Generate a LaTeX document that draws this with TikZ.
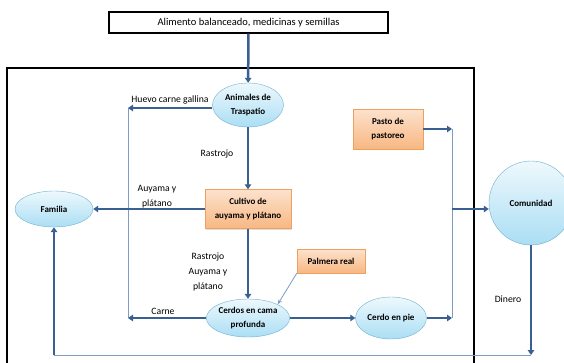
\documentclass[tikz,border=0pt]{standalone}
\usepackage{fontspec}
\setmainfont{Carlito}
\usepackage{tikz}
\usetikzlibrary{shapes.geometric, arrows.meta, positioning, shadows}
\definecolor{flowcolor}{RGB}{58,96,146}
\definecolor{linkcolor}{RGB}{125,155,195}
\definecolor{ovalcolor}{RGB}{170,222,244}
\definecolor{ovalline}{RGB}{110,175,205}
\definecolor{boxcolor}{RGB}{248,183,130}
\definecolor{boxline}{RGB}{238,160,95}

\begin{document}
\begin{tikzpicture}[
    x=1pt, y=-1pt,
    font=\fontsize{9.7}{15}\selectfont,
    oval/.style={ellipse, draw=ovalline, top color=ovalcolor!20, bottom color=ovalcolor, inner sep=0pt, font=\fontsize{9}{14}\selectfont\bfseries, align=center},
    item/.style={rectangle, draw=boxline, top color=boxcolor!40, bottom color=boxcolor, inner sep=0pt, font=\fontsize{9}{14}\selectfont\bfseries, align=center, drop shadow={shadow xshift=1pt, shadow yshift=-1pt, opacity=0.25}},
    supply/.style={rectangle, draw, line width=1.2pt, minimum width=279pt, minimum height=21pt, inner sep=0pt, font=\fontsize{10.5}{13}\selectfont},
    lab/.style={align=center, inner sep=0pt},
    flow/.style={-{Triangle[length=5pt,width=6.5pt]}, line width=2.5pt, draw=flowcolor},
    link/.style={line width=0.8pt, draw=linkcolor}
]
    \useasboundingbox (0,0) rectangle (564,362);
    \draw[line width=1.2pt] (7,370) -- (7,68) -- (474,68) -- (474,370);

    \node[supply] (feed) at (248.5,22.5) {Alimento balanceado, medicinas y semillas};
    \node[oval, minimum width=71pt, minimum height=44pt] (anim) at (248,105) {Animales de\\Traspatio};
    \node[item, minimum width=86pt, minimum height=39pt] (cult) at (248,209) {Cultivo de\\auyama y plátano};
    \node[oval, minimum width=78pt, minimum height=36pt] (fam) at (54,209) {Familia};
    \node[oval, minimum width=77pt, minimum height=38pt] (cerd) at (248,318) {Cerdos en cama\\profunda};
    \node[oval, minimum width=71pt, minimum height=42pt] (pie) at (391,318) {Cerdo en pie};
    \node[item, minimum width=70pt, minimum height=40pt] (pasto) at (388,129) {Pasto de\\pastoreo};
    \node[item, minimum width=68pt, minimum height=24pt] (palm) at (331,261) {Palmera real};
    \node[circle, draw=ovalline, top color=ovalcolor!20, bottom color=ovalcolor, minimum size=84pt, inner sep=0pt, font=\fontsize{9}{14}\selectfont\bfseries] (com) at (531,203) {Comunidad};

    \node[lab] (huevo) at (170,100) {Huevo carne gallina};
    \node[lab] (rast) at (217,154) {Rastrojo};
    \node[lab] (auy) at (157,197) {Auyama y\\plátano};
    \node[lab] (rest) at (208,272) {Rastrojo\\Auyama y\\plátano};
    \node[lab] (carne) at (163,311) {Carne};
    \node[lab] (din) at (508,299) {Dinero};

    \coordinate (hv) at (128,108);
    \coordinate (cn) at (128,318);
    \coordinate (pr) at (452,129);
    \coordinate (pl) at (452,318);
    \coordinate (cm) at (452,209);
    \coordinate (dn) at (531,355);
    \coordinate (fb) at (54,355);

    \draw[link] (hv) -- (cn);
    \draw[link] (pr) -- (pl);
    \draw[link] (dn) -- (fb);
    \draw[link, -{Stealth[length=5pt]}] (palm.south west) -- (cerd.north east);

    \draw[flow] (feed) -- (anim);
    \draw[flow] (hv -| anim.west) -- (hv);
    \draw[flow] (anim) -- (cult);
    \draw[flow] (cult) -- (fam);
    \draw[flow] (cult) -- (cerd);
    \draw[flow] (cerd) -- (cn);
    \draw[flow] (cerd) -- (pie);
    \draw[flow] (pie) -- (pl);
    \draw[flow] (pasto) -- (pr);
    \draw[flow] (cm) -- (cm -| com.west);
    \draw[flow] (com) -- (dn);
    \draw[flow] (fb) -- (fam);
\end{tikzpicture}
\end{document}
